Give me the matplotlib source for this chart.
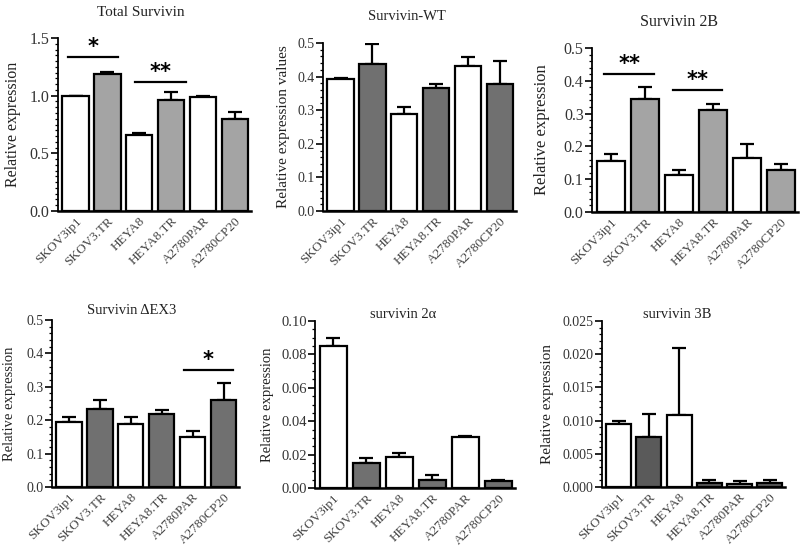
import matplotlib
matplotlib.use("Agg")
import matplotlib.pyplot as plt
import numpy as np
from matplotlib.ticker import MultipleLocator, FormatStrFormatter

plt.rcParams['font.family'] = ['Liberation Serif', 'DejaVu Serif']

# cell lines (same order in every panel)
cell_lines = ["SKOV3ip1", "SKOV3.TR", "HEYA8", "HEYA8.TR", "A2780PAR", "A2780CP20"]

# Total Survivin
total_vals = [1.0, 1.19, 0.66, 0.963, 0.985, 0.795]
total_err = [0.0, 0.015, 0.015, 0.067, 0.008, 0.062]
# Survivin-WT
wt_vals = [0.392, 0.438, 0.289, 0.365, 0.433, 0.378]
wt_err = [0.005, 0.06, 0.02, 0.013, 0.025, 0.069]
# Survivin 2B
b2_vals = [0.154, 0.344, 0.113, 0.31, 0.164, 0.129]
b2_err = [0.024, 0.036, 0.016, 0.02, 0.043, 0.018]
# Survivin dEX3
dex3_vals = [0.194, 0.234, 0.189, 0.218, 0.149, 0.259]
dex3_err = [0.016, 0.025, 0.021, 0.012, 0.02, 0.051]
# survivin 2alpha
a2_vals = [0.0853, 0.0149, 0.0183, 0.0046, 0.0306, 0.0040]
a2_err = [0.0047, 0.0031, 0.0027, 0.0034, 0.0006, 0.0008]
# survivin 3B
b3_vals = [0.0095, 0.0075, 0.0108, 0.0006, 0.0005, 0.0006]
b3_err = [0.0005, 0.0035, 0.0102, 0.0004, 0.0004, 0.0004]

# significance brackets: (start, end, height, label)
total_sig = [(-0.25, 1.33, 1.335, "*"), (1.86, 3.46, 1.12, "**")]
b2_sig = [(-0.2, 1.28, 0.422, "**"), (1.82, 3.27, 0.371, "**")]
dex3_sig = [(3.71, 5.29, 0.349, "*")]

W, H = 800, 546
light = "#a4a4a4"
dark = "#707070"


def px_axes(fig, left, right, top, bottom):
    # axes box given in pixels of the 800x546 picture
    return fig.add_axes([left / W, 1 - bottom / H, (right - left) / W, (bottom - top) / H])


def panel(fig, box, vals, err, colors, ymax, major, minor, tick_fs, ylabel, ylab_x, ylab_fs,
          title, title_xy, title_fs, fmt, sig=()):
    ax = px_axes(fig, *box)
    x = np.arange(len(vals))
    # upper-only error bars, GraphPad style
    ax.errorbar(x, vals, yerr=[np.zeros(len(err)), err], fmt="none", ecolor="black",
                elinewidth=1.6, capsize=5, capthick=1.6, zorder=1)
    ax.bar(x, vals, width=0.82, color=colors, edgecolor="black", linewidth=1.6, zorder=2)
    ax.set_xlim(-0.55, 5.5)
    ax.set_ylim(0, ymax)
    ax.yaxis.set_major_locator(MultipleLocator(major))
    ax.yaxis.set_minor_locator(MultipleLocator(minor))
    ax.yaxis.set_major_formatter(FormatStrFormatter(fmt))
    for s in ["top", "right"]:
        ax.spines[s].set_visible(False)
    ax.spines["left"].set_linewidth(1.3)
    ax.spines["bottom"].set_linewidth(1.8)
    ax.tick_params(axis="y", which="major", length=5, width=1.2, labelsize=tick_fs, pad=1,
                   labelcolor="#333333")
    ax.tick_params(axis="y", which="minor", length=2.5, width=0.9)
    ax.tick_params(axis="x", length=0, pad=3)
    ax.set_xticks(x)
    ax.set_xticklabels(cell_lines, rotation=45, ha="right", rotation_mode="anchor",
                       fontsize=9.5, color="#444444")

    # significance lines with stars
    for s, e, h, lab in sig:
        ax.plot([s, e], [h, h], color="black", lw=1.6, clip_on=False)
        ax.text((s + e) / 2, h, lab, ha="center", va="bottom", fontsize=15,
                family="DejaVu Sans", fontweight="bold")

    cy = (box[2] + box[3]) / 2
    fig.text(ylab_x / W, 1 - cy / H, ylabel, rotation=90, ha="center", va="center",
             fontsize=ylab_fs, color="#222222")
    fig.text(title_xy[0] / W, 1 - title_xy[1] / H, title, ha="center", va="center",
             fontsize=title_fs, color="#222222")
    return ax


fig = plt.figure(figsize=(8, 5.46), dpi=100)

panel(fig, (58, 251, 38, 211), total_vals, total_err, ["white", light] * 3, 1.5, 0.5, 0.05,
      11.5, "Relative expression", 13, 11.5, "Total Survivin", (141, 12), 11, "%.1f", total_sig)
panel(fig, (323, 516, 43, 211), wt_vals, wt_err, ["white", dark] * 3, 0.5, 0.1, 0.02,
      10, "Relative expression values", 284, 11, "Survivin-WT", (407, 17), 10.5, "%.1f")
panel(fig, (592, 798, 48, 212), b2_vals, b2_err, ["white", light] * 3, 0.5, 0.1, 0.02,
      11.5, "Relative expression", 542, 12, "Survivin 2B", (679, 22), 11.5, "%.1f", b2_sig)
panel(fig, (52, 239, 320, 487), dex3_vals, dex3_err, ["white", dark] * 3, 0.5, 0.1, 0.02,
      10, "Relative expression", 10, 10.5, "Survivin \u0394EX3", (132, 311), 10.5, "%.1f", dex3_sig)
panel(fig, (315, 515, 321, 488), a2_vals, a2_err, ["white", dark] * 3, 0.10, 0.02, 0.005,
      10.5, "Relative expression", 267, 10.5, "survivin 2\u03b1", (403, 314), 10.5, "%.2f")
panel(fig, (602, 785, 321, 487), b3_vals, b3_err,
      ["white", "#5a5a5a", "white", "#5a5a5a", "#aaaaaa", "#5a5a5a"], 0.025, 0.005, 0.001,
      10, "Relative expression", 547, 11, "survivin 3B", (677, 315), 10.5, "%.3f")

fig.savefig("out.png", dpi=100)
